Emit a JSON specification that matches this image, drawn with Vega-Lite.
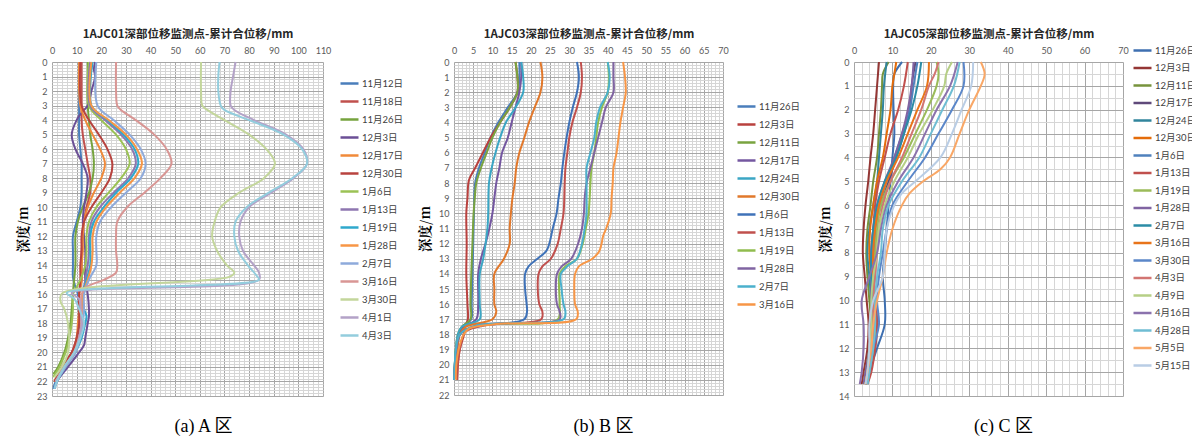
{
"$schema": "https://vega.github.io/schema/vega-lite/v6.json",
"background": "white",
"padding": {"left": 16, "top": 28, "right": 0, "bottom": 0},
"config": {
 "view": {"stroke": null},
 "axis": {"labelFont": "Lato, Noto Sans CJK SC", "labelColor": "#595959", "labelFontSize": 9, "labelFlush": false, "labelOverlap": false, "tickSize": 0},
 "legend": {"titleFont": "Noto Sans CJK SC"}
},
"datasets": {
"A": [
{"s":"11月12日","d":0,"v":11},{"s":"11月12日","d":2,"v":11},{"s":"11月12日","d":4,"v":11},{"s":"11月12日","d":5,"v":11},{"s":"11月12日","d":6,"v":11.5},{"s":"11月12日","d":7,"v":12},{"s":"11月12日","d":8,"v":12},{"s":"11月12日","d":9,"v":12},{"s":"11月12日","d":10,"v":11.5},{"s":"11月12日","d":11,"v":10},{"s":"11月12日","d":12,"v":8.5},{"s":"11月12日","d":13,"v":8.5},{"s":"11月12日","d":14,"v":8.5},{"s":"11月12日","d":14.8,"v":8.5},{"s":"11月12日","d":15.5,"v":9.5},{"s":"11月12日","d":16,"v":10.5},{"s":"11月12日","d":17,"v":11},{"s":"11月12日","d":18,"v":11},{"s":"11月12日","d":19,"v":10.5},{"s":"11月12日","d":20,"v":9},{"s":"11月12日","d":21,"v":5},{"s":"11月12日","d":22,"v":1.5},{"s":"11月12日","d":22.5,"v":0.5},
{"s":"11月18日","d":0,"v":12},{"s":"11月18日","d":2,"v":12},{"s":"11月18日","d":3,"v":12},{"s":"11月18日","d":4,"v":12},{"s":"11月18日","d":5,"v":12.5},{"s":"11月18日","d":6,"v":13.5},{"s":"11月18日","d":7,"v":14.5},{"s":"11月18日","d":8,"v":15.5},{"s":"11月18日","d":9,"v":15.5},{"s":"11月18日","d":10,"v":14},{"s":"11月18日","d":11,"v":13},{"s":"11月18日","d":12,"v":12.5},{"s":"11月18日","d":13,"v":12},{"s":"11月18日","d":14,"v":12},{"s":"11月18日","d":15,"v":12},{"s":"11月18日","d":16,"v":11},{"s":"11月18日","d":17,"v":11},{"s":"11月18日","d":18,"v":11},{"s":"11月18日","d":19,"v":10},{"s":"11月18日","d":20,"v":8},{"s":"11月18日","d":21,"v":4},{"s":"11月18日","d":22,"v":1},
{"s":"11月26日","d":0,"v":14.5},{"s":"11月26日","d":2,"v":14.5},{"s":"11月26日","d":3,"v":14.5},{"s":"11月26日","d":4,"v":15},{"s":"11月26日","d":5,"v":15.5},{"s":"11月26日","d":6,"v":16.5},{"s":"11月26日","d":7,"v":17},{"s":"11月26日","d":8,"v":16.5},{"s":"11月26日","d":9,"v":15},{"s":"11月26日","d":10,"v":12.5},{"s":"11月26日","d":11,"v":10.5},{"s":"11月26日","d":12,"v":9.5},{"s":"11月26日","d":13,"v":9.5},{"s":"11月26日","d":14,"v":9.5},{"s":"11月26日","d":15,"v":9},{"s":"11月26日","d":16,"v":8.5},{"s":"11月26日","d":17,"v":8},{"s":"11月26日","d":18,"v":7.5},{"s":"11月26日","d":19,"v":6.5},{"s":"11月26日","d":20,"v":5},{"s":"11月26日","d":21,"v":2.5},{"s":"11月26日","d":21.5,"v":0.5},
{"s":"12月3日","d":0,"v":17.5},{"s":"12月3日","d":0.5,"v":17},{"s":"12月3日","d":1,"v":17.5},{"s":"12月3日","d":2,"v":16},{"s":"12月3日","d":3,"v":14.5},{"s":"12月3日","d":3.5,"v":12},{"s":"12月3日","d":4,"v":10},{"s":"12月3日","d":5,"v":8},{"s":"12月3日","d":6,"v":9.5},{"s":"12月3日","d":7,"v":12.5},{"s":"12月3日","d":8,"v":14.5},{"s":"12月3日","d":9,"v":14},{"s":"12月3日","d":10,"v":13},{"s":"12月3日","d":11,"v":12.5},{"s":"12月3日","d":12,"v":13},{"s":"12月3日","d":13,"v":13.5},{"s":"12月3日","d":14,"v":13.5},{"s":"12月3日","d":15,"v":13.5},{"s":"12月3日","d":16,"v":14.5},{"s":"12月3日","d":17,"v":15},{"s":"12月3日","d":17.5,"v":15},{"s":"12月3日","d":18,"v":14.5},{"s":"12月3日","d":19,"v":13.5},{"s":"12月3日","d":19.5,"v":13},{"s":"12月3日","d":20,"v":11},{"s":"12月3日","d":21,"v":6.5},{"s":"12月3日","d":22,"v":2},{"s":"12月3日","d":22.5,"v":1},
{"s":"12月17日","d":0,"v":11},{"s":"12月17日","d":3,"v":11.5},{"s":"12月17日","d":4,"v":13.5},{"s":"12月17日","d":5,"v":16.5},{"s":"12月17日","d":6,"v":19.5},{"s":"12月17日","d":7,"v":21.5},{"s":"12月17日","d":8,"v":20},{"s":"12月17日","d":9,"v":17},{"s":"12月17日","d":10,"v":14.5},{"s":"12月17日","d":11,"v":13},{"s":"12月17日","d":12,"v":12.5},{"s":"12月17日","d":13,"v":12.5},{"s":"12月17日","d":14,"v":12},{"s":"12月17日","d":15,"v":12},{"s":"12月17日","d":16,"v":11},{"s":"12月17日","d":17,"v":11},{"s":"12月17日","d":18,"v":10.5},{"s":"12月17日","d":19,"v":10},{"s":"12月17日","d":20,"v":8.5},{"s":"12月17日","d":21,"v":4.5},{"s":"12月17日","d":22,"v":1},
{"s":"12月30日","d":0,"v":11.5},{"s":"12月30日","d":3,"v":12},{"s":"12月30日","d":4,"v":15},{"s":"12月30日","d":5,"v":19},{"s":"12月30日","d":6,"v":22.5},{"s":"12月30日","d":7,"v":24.5},{"s":"12月30日","d":8,"v":23.5},{"s":"12月30日","d":9,"v":20},{"s":"12月30日","d":10,"v":16},{"s":"12月30日","d":11,"v":13},{"s":"12月30日","d":12,"v":12},{"s":"12月30日","d":13,"v":12},{"s":"12月30日","d":14,"v":11.5},{"s":"12月30日","d":15,"v":11.5},{"s":"12月30日","d":16,"v":11},{"s":"12月30日","d":17,"v":11},{"s":"12月30日","d":18,"v":11},{"s":"12月30日","d":19,"v":10},{"s":"12月30日","d":20,"v":8},{"s":"12月30日","d":21,"v":4},{"s":"12月30日","d":22,"v":1},
{"s":"1月6日","d":0,"v":15},{"s":"1月6日","d":3,"v":15},{"s":"1月6日","d":4,"v":20},{"s":"1月6日","d":5,"v":26},{"s":"1月6日","d":6,"v":30},{"s":"1月6日","d":7,"v":31.5},{"s":"1月6日","d":8,"v":28},{"s":"1月6日","d":9,"v":23},{"s":"1月6日","d":10,"v":18},{"s":"1月6日","d":11,"v":15},{"s":"1月6日","d":12,"v":14},{"s":"1月6日","d":13,"v":14},{"s":"1月6日","d":14,"v":13.5},{"s":"1月6日","d":15,"v":11.5},{"s":"1月6日","d":15.5,"v":10},{"s":"1月6日","d":16,"v":8.5},{"s":"1月6日","d":17,"v":8.5},{"s":"1月6日","d":18,"v":8},{"s":"1月6日","d":19,"v":7},{"s":"1月6日","d":20,"v":5.5},{"s":"1月6日","d":21,"v":3},{"s":"1月6日","d":21.7,"v":0.5},
{"s":"1月13日","d":0,"v":15.5},{"s":"1月13日","d":3,"v":15.5},{"s":"1月13日","d":4,"v":21.5},{"s":"1月13日","d":5,"v":28},{"s":"1月13日","d":6,"v":32.5},{"s":"1月13日","d":7,"v":34},{"s":"1月13日","d":8,"v":31},{"s":"1月13日","d":9,"v":25},{"s":"1月13日","d":10,"v":19.5},{"s":"1月13日","d":11,"v":16},{"s":"1月13日","d":12,"v":15},{"s":"1月13日","d":13,"v":15},{"s":"1月13日","d":14,"v":14.5},{"s":"1月13日","d":15,"v":13.5},{"s":"1月13日","d":16,"v":12.5},{"s":"1月13日","d":17,"v":12},{"s":"1月13日","d":18,"v":12},{"s":"1月13日","d":19,"v":11},{"s":"1月13日","d":20,"v":9},{"s":"1月13日","d":21,"v":5},{"s":"1月13日","d":22,"v":1.5},
{"s":"1月19日","d":0,"v":16.5},{"s":"1月19日","d":3,"v":16},{"s":"1月19日","d":4,"v":22.5},{"s":"1月19日","d":5,"v":29},{"s":"1月19日","d":6,"v":33.5},{"s":"1月19日","d":7,"v":35},{"s":"1月19日","d":8,"v":32},{"s":"1月19日","d":9,"v":26},{"s":"1月19日","d":10,"v":21},{"s":"1月19日","d":11,"v":17},{"s":"1月19日","d":12,"v":15.5},{"s":"1月19日","d":13,"v":15.5},{"s":"1月19日","d":14,"v":15.5},{"s":"1月19日","d":15,"v":14},{"s":"1月19日","d":16,"v":12.5},{"s":"1月19日","d":17,"v":13},{"s":"1月19日","d":17.5,"v":14},{"s":"1月19日","d":18,"v":13.5},{"s":"1月19日","d":19,"v":12},{"s":"1月19日","d":20,"v":9.5},{"s":"1月19日","d":21,"v":5.5},{"s":"1月19日","d":22,"v":2},{"s":"1月19日","d":22.5,"v":1},
{"s":"1月28日","d":0,"v":16},{"s":"1月28日","d":3,"v":16},{"s":"1月28日","d":4,"v":23},{"s":"1月28日","d":5,"v":30},{"s":"1月28日","d":6,"v":34.5},{"s":"1月28日","d":7,"v":36.5},{"s":"1月28日","d":8,"v":33.5},{"s":"1月28日","d":9,"v":27.5},{"s":"1月28日","d":10,"v":22},{"s":"1月28日","d":11,"v":18},{"s":"1月28日","d":12,"v":16.5},{"s":"1月28日","d":13,"v":16.5},{"s":"1月28日","d":14,"v":16},{"s":"1月28日","d":15,"v":14.5},{"s":"1月28日","d":16,"v":12.5},{"s":"1月28日","d":17,"v":12},{"s":"1月28日","d":18,"v":12},{"s":"1月28日","d":19,"v":11},{"s":"1月28日","d":20,"v":9},{"s":"1月28日","d":21,"v":5},{"s":"1月28日","d":22,"v":1.5},
{"s":"2月7日","d":0,"v":18},{"s":"2月7日","d":3,"v":18.5},{"s":"2月7日","d":4,"v":25},{"s":"2月7日","d":5,"v":31.5},{"s":"2月7日","d":6,"v":36},{"s":"2月7日","d":7,"v":38},{"s":"2月7日","d":8,"v":36},{"s":"2月7日","d":9,"v":30},{"s":"2月7日","d":10,"v":24},{"s":"2月7日","d":11,"v":19.5},{"s":"2月7日","d":12,"v":18},{"s":"2月7日","d":13,"v":18},{"s":"2月7日","d":14,"v":18},{"s":"2月7日","d":15,"v":15},{"s":"2月7日","d":16,"v":13},{"s":"2月7日","d":17,"v":13},{"s":"2月7日","d":18,"v":12.5},{"s":"2月7日","d":19,"v":11.5},{"s":"2月7日","d":20,"v":9.5},{"s":"2月7日","d":21,"v":5.5},{"s":"2月7日","d":22,"v":2},{"s":"2月7日","d":22.5,"v":1},
{"s":"3月16日","d":0,"v":26},{"s":"3月16日","d":2,"v":26},{"s":"3月16日","d":3,"v":26.5},{"s":"3月16日","d":3.3,"v":28},{"s":"3月16日","d":4,"v":34},{"s":"3月16日","d":5,"v":41.5},{"s":"3月16日","d":6,"v":46.5},{"s":"3月16日","d":7,"v":48.5},{"s":"3月16日","d":8,"v":44},{"s":"3月16日","d":9,"v":37.5},{"s":"3月16日","d":10,"v":30.5},{"s":"3月16日","d":11,"v":26.5},{"s":"3月16日","d":12,"v":26},{"s":"3月16日","d":13,"v":26},{"s":"3月16日","d":14,"v":26.5},{"s":"3月16日","d":14.5,"v":26},{"s":"3月16日","d":15,"v":21},{"s":"3月16日","d":15.5,"v":14},{"s":"3月16日","d":16,"v":12},{"s":"3月16日","d":17,"v":12},{"s":"3月16日","d":18,"v":12},{"s":"3月16日","d":19,"v":11},{"s":"3月16日","d":20,"v":9},{"s":"3月16日","d":21,"v":5},{"s":"3月16日","d":22,"v":1.5},
{"s":"3月30日","d":0,"v":60.5},{"s":"3月30日","d":2,"v":60.5},{"s":"3月30日","d":3,"v":61},{"s":"3月30日","d":3.3,"v":63},{"s":"3月30日","d":4,"v":70},{"s":"3月30日","d":5,"v":80},{"s":"3月30日","d":6,"v":87},{"s":"3月30日","d":7,"v":90.5},{"s":"3月30日","d":8,"v":86},{"s":"3月30日","d":9,"v":76},{"s":"3月30日","d":10,"v":68.5},{"s":"3月30日","d":11,"v":66},{"s":"3月30日","d":12,"v":65},{"s":"3月30日","d":13,"v":67},{"s":"3月30日","d":14,"v":71},{"s":"3月30日","d":14.5,"v":74},{"s":"3月30日","d":14.8,"v":72},{"s":"3月30日","d":15.95,"v":4},{"s":"3月30日","d":16.5,"v":3.5},{"s":"3月30日","d":17,"v":5},{"s":"3月30日","d":18,"v":6.5},{"s":"3月30日","d":19,"v":7},{"s":"3月30日","d":20,"v":6.5},{"s":"3月30日","d":21,"v":4},{"s":"3月30日","d":21.7,"v":1},
{"s":"4月1日","d":0,"v":74.5},{"s":"4月1日","d":1,"v":73.5},{"s":"4月1日","d":2,"v":72.5},{"s":"4月1日","d":3,"v":72.5},{"s":"4月1日","d":3.3,"v":74},{"s":"4月1日","d":4,"v":82},{"s":"4月1日","d":5,"v":95},{"s":"4月1日","d":6,"v":102},{"s":"4月1日","d":7,"v":103.5},{"s":"4月1日","d":8,"v":98},{"s":"4月1日","d":9,"v":89},{"s":"4月1日","d":10,"v":80},{"s":"4月1日","d":11,"v":76.5},{"s":"4月1日","d":12,"v":76},{"s":"4月1日","d":13,"v":77.5},{"s":"4月1日","d":14,"v":82},{"s":"4月1日","d":14.5,"v":84},{"s":"4月1日","d":15,"v":84},{"s":"4月1日","d":15.9,"v":8},{"s":"4月1日","d":16.3,"v":11},{"s":"4月1日","d":17,"v":11.5},{"s":"4月1日","d":18,"v":12},{"s":"4月1日","d":19,"v":11},{"s":"4月1日","d":20,"v":9},{"s":"4月1日","d":21,"v":5},{"s":"4月1日","d":22,"v":1.5},
{"s":"4月3日","d":0,"v":68},{"s":"4月3日","d":1,"v":67.5},{"s":"4月3日","d":2,"v":67.5},{"s":"4月3日","d":3,"v":68.5},{"s":"4月3日","d":3.3,"v":70},{"s":"4月3日","d":4,"v":80},{"s":"4月3日","d":5,"v":94},{"s":"4月3日","d":6,"v":101.5},{"s":"4月3日","d":7,"v":103.5},{"s":"4月3日","d":8,"v":97.5},{"s":"4月3日","d":9,"v":88},{"s":"4月3日","d":10,"v":79},{"s":"4月3日","d":11,"v":74.5},{"s":"4月3日","d":12,"v":74},{"s":"4月3日","d":13,"v":75.5},{"s":"4月3日","d":14,"v":79.5},{"s":"4月3日","d":14.7,"v":83},{"s":"4月3日","d":15,"v":84},{"s":"4月3日","d":15.9,"v":6},{"s":"4月3日","d":16.3,"v":9},{"s":"4月3日","d":17,"v":11},{"s":"4月3日","d":18,"v":13},{"s":"4月3日","d":19,"v":11.5},{"s":"4月3日","d":20,"v":9},{"s":"4月3日","d":21,"v":5},{"s":"4月3日","d":22,"v":2},{"s":"4月3日","d":22.5,"v":1}
],
"B": [
{"s":"11月26日","d":0,"v":17},{"s":"11月26日","d":1,"v":17},{"s":"11月26日","d":2,"v":16.5},{"s":"11月26日","d":3,"v":14},{"s":"11月26日","d":4,"v":11.5},{"s":"11月26日","d":5,"v":9.5},{"s":"11月26日","d":6,"v":8},{"s":"11月26日","d":7,"v":6.5},{"s":"11月26日","d":8,"v":5.5},{"s":"11月26日","d":10,"v":5.2},{"s":"11月26日","d":12,"v":5},{"s":"11月26日","d":14,"v":4.8},{"s":"11月26日","d":16,"v":4.6},{"s":"11月26日","d":17,"v":4.5},{"s":"11月26日","d":17.4,"v":2.5},{"s":"11月26日","d":18,"v":1.2},{"s":"11月26日","d":19,"v":0.6},{"s":"11月26日","d":20,"v":0.2},{"s":"11月26日","d":21,"v":0},
{"s":"12月3日","d":0,"v":16},{"s":"12月3日","d":1,"v":16.5},{"s":"12月3日","d":2,"v":16.5},{"s":"12月3日","d":3,"v":14.5},{"s":"12月3日","d":4,"v":12},{"s":"12月3日","d":5,"v":9.5},{"s":"12月3日","d":6,"v":7.5},{"s":"12月3日","d":7,"v":5.5},{"s":"12月3日","d":7.8,"v":3.9},{"s":"12月3日","d":9,"v":3.5},{"s":"12月3日","d":10,"v":3.2},{"s":"12月3日","d":12,"v":3.3},{"s":"12月3日","d":14,"v":3.2},{"s":"12月3日","d":16,"v":3.5},{"s":"12月3日","d":17,"v":3.6},{"s":"12月3日","d":17.5,"v":2.8},{"s":"12月3日","d":18,"v":2.6},{"s":"12月3日","d":19,"v":1.5},{"s":"12月3日","d":20,"v":1},{"s":"12月3日","d":21,"v":0.8},
{"s":"12月11日","d":0,"v":16},{"s":"12月11日","d":1,"v":16.5},{"s":"12月11日","d":2,"v":16.5},{"s":"12月11日","d":3,"v":14.5},{"s":"12月11日","d":4,"v":12},{"s":"12月11日","d":5,"v":10},{"s":"12月11日","d":6,"v":8.5},{"s":"12月11日","d":7,"v":7},{"s":"12月11日","d":8,"v":5.8},{"s":"12月11日","d":9,"v":5.4},{"s":"12月11日","d":10,"v":5.1},{"s":"12月11日","d":12,"v":4.8},{"s":"12月11日","d":14,"v":4.5},{"s":"12月11日","d":16,"v":4.3},{"s":"12月11日","d":17,"v":4.3},{"s":"12月11日","d":17.5,"v":2},{"s":"12月11日","d":18,"v":1},{"s":"12月11日","d":19,"v":0.5},{"s":"12月11日","d":20,"v":0.3},{"s":"12月11日","d":21,"v":0},
{"s":"12月17日","d":0,"v":17.5},{"s":"12月17日","d":1,"v":17.5},{"s":"12月17日","d":2,"v":17},{"s":"12月17日","d":3,"v":16},{"s":"12月17日","d":4,"v":15},{"s":"12月17日","d":5,"v":14},{"s":"12月17日","d":6,"v":12.5},{"s":"12月17日","d":7,"v":11.8},{"s":"12月17日","d":8,"v":11},{"s":"12月17日","d":9,"v":10.5},{"s":"12月17日","d":10,"v":10},{"s":"12月17日","d":11,"v":9.2},{"s":"12月17日","d":12,"v":8.2},{"s":"12月17日","d":13,"v":7},{"s":"12月17日","d":14,"v":6.3},{"s":"12月17日","d":16,"v":6.3},{"s":"12月17日","d":17,"v":5.8},{"s":"12月17日","d":17.5,"v":2.5},{"s":"12月17日","d":18,"v":1.5},{"s":"12月17日","d":19,"v":0.8},{"s":"12月17日","d":20,"v":0.3},{"s":"12月17日","d":21,"v":0},
{"s":"12月24日","d":0,"v":17.5},{"s":"12月24日","d":1,"v":18},{"s":"12月24日","d":2,"v":18},{"s":"12月24日","d":3,"v":16},{"s":"12月24日","d":4,"v":13.5},{"s":"12月24日","d":5,"v":12},{"s":"12月24日","d":6,"v":10.8},{"s":"12月24日","d":7,"v":9.8},{"s":"12月24日","d":8,"v":9.1},{"s":"12月24日","d":10,"v":8.9},{"s":"12月24日","d":11,"v":8.7},{"s":"12月24日","d":13,"v":7.6},{"s":"12月24日","d":14,"v":6.7},{"s":"12月24日","d":16,"v":6.7},{"s":"12月24日","d":17,"v":6.7},{"s":"12月24日","d":17.5,"v":2},{"s":"12月24日","d":18,"v":1},{"s":"12月24日","d":19,"v":0.5},{"s":"12月24日","d":20,"v":0.2},{"s":"12月24日","d":21,"v":0},
{"s":"12月30日","d":0,"v":22.5},{"s":"12月30日","d":1,"v":23},{"s":"12月30日","d":2,"v":22.5},{"s":"12月30日","d":3,"v":21},{"s":"12月30日","d":4,"v":19.5},{"s":"12月30日","d":5,"v":18.3},{"s":"12月30日","d":6,"v":17},{"s":"12月30日","d":7,"v":16.2},{"s":"12月30日","d":8,"v":15.8},{"s":"12月30日","d":9,"v":15.2},{"s":"12月30日","d":10,"v":14.8},{"s":"12月30日","d":11,"v":14.5},{"s":"12月30日","d":12,"v":14.5},{"s":"12月30日","d":13,"v":13},{"s":"12月30日","d":14,"v":10.5},{"s":"12月30日","d":15,"v":10.5},{"s":"12月30日","d":16,"v":10.5},{"s":"12月30日","d":16.5,"v":11},{"s":"12月30日","d":17,"v":10},{"s":"12月30日","d":17.5,"v":3},{"s":"12月30日","d":18,"v":1.5},{"s":"12月30日","d":19,"v":0.8},{"s":"12月30日","d":20,"v":0.3},{"s":"12月30日","d":21,"v":0},
{"s":"1月6日","d":0,"v":32},{"s":"1月6日","d":1,"v":32.5},{"s":"1月6日","d":2,"v":32},{"s":"1月6日","d":3,"v":30.9},{"s":"1月6日","d":4,"v":30},{"s":"1月6日","d":5,"v":29.3},{"s":"1月6日","d":6,"v":28.7},{"s":"1月6日","d":7,"v":28.2},{"s":"1月6日","d":8,"v":27.8},{"s":"1月6日","d":9,"v":27.2},{"s":"1月6日","d":10,"v":26.7},{"s":"1月6日","d":11,"v":25.7},{"s":"1月6日","d":12,"v":24.8},{"s":"1月6日","d":12.5,"v":24},{"s":"1月6日","d":13,"v":21.7},{"s":"1月6日","d":13.5,"v":19.4},{"s":"1月6日","d":14,"v":18.5},{"s":"1月6日","d":15,"v":18.5},{"s":"1月6日","d":16,"v":18.9},{"s":"1月6日","d":16.5,"v":19},{"s":"1月6日","d":17,"v":18.3},{"s":"1月6日","d":17.4,"v":8},{"s":"1月6日","d":17.7,"v":3},{"s":"1月6日","d":18,"v":1.5},{"s":"1月6日","d":19,"v":0.5},{"s":"1月6日","d":20,"v":0.3},{"s":"1月6日","d":21,"v":0},
{"s":"1月13日","d":0,"v":33},{"s":"1月13日","d":1,"v":33.3},{"s":"1月13日","d":2,"v":33},{"s":"1月13日","d":3,"v":32},{"s":"1月13日","d":4,"v":30.8},{"s":"1月13日","d":5,"v":30},{"s":"1月13日","d":6,"v":29.5},{"s":"1月13日","d":7,"v":29},{"s":"1月13日","d":8,"v":28.8},{"s":"1月13日","d":10,"v":28.5},{"s":"1月13日","d":11,"v":27.8},{"s":"1月13日","d":12,"v":27},{"s":"1月13日","d":13,"v":25.2},{"s":"1月13日","d":13.5,"v":23},{"s":"1月13日","d":14,"v":22},{"s":"1月13日","d":15,"v":21.8},{"s":"1月13日","d":16,"v":22.2},{"s":"1月13日","d":16.5,"v":23},{"s":"1月13日","d":17,"v":22.7},{"s":"1月13日","d":17.4,"v":8},{"s":"1月13日","d":17.8,"v":3},{"s":"1月13日","d":18,"v":2.5},{"s":"1月13日","d":19,"v":1.5},{"s":"1月13日","d":20,"v":1},{"s":"1月13日","d":21,"v":0.8},
{"s":"1月19日","d":0,"v":40},{"s":"1月19日","d":1,"v":40.3},{"s":"1月19日","d":2,"v":40},{"s":"1月19日","d":3,"v":38.5},{"s":"1月19日","d":4,"v":37.5},{"s":"1月19日","d":5,"v":37},{"s":"1月19日","d":6,"v":36.5},{"s":"1月19日","d":7,"v":35.8},{"s":"1月19日","d":8,"v":35.5},{"s":"1月19日","d":9,"v":35.3},{"s":"1月19日","d":10,"v":35},{"s":"1月19日","d":11,"v":34.3},{"s":"1月19日","d":12,"v":33.5},{"s":"1月19日","d":13,"v":32},{"s":"1月19日","d":13.5,"v":29},{"s":"1月19日","d":14,"v":27.5},{"s":"1月19日","d":16,"v":27.5},{"s":"1月19日","d":17,"v":27},{"s":"1月19日","d":17.4,"v":6},{"s":"1月19日","d":18,"v":1.5},{"s":"1月19日","d":19,"v":0.5},{"s":"1月19日","d":20,"v":0.2},{"s":"1月19日","d":21,"v":0},
{"s":"1月28日","d":0,"v":41.5},{"s":"1月28日","d":1,"v":41.5},{"s":"1月28日","d":2,"v":41.5},{"s":"1月28日","d":3,"v":39.5},{"s":"1月28日","d":4,"v":38.5},{"s":"1月28日","d":5,"v":37.5},{"s":"1月28日","d":6,"v":36.5},{"s":"1月28日","d":7,"v":35.5},{"s":"1月28日","d":8,"v":34.5},{"s":"1月28日","d":9,"v":34},{"s":"1月28日","d":10,"v":33.8},{"s":"1月28日","d":11,"v":33.3},{"s":"1月28日","d":12,"v":32.3},{"s":"1月28日","d":13,"v":30.5},{"s":"1月28日","d":13.5,"v":28},{"s":"1月28日","d":14,"v":26.8},{"s":"1月28日","d":15,"v":26.5},{"s":"1月28日","d":16,"v":26.8},{"s":"1月28日","d":16.5,"v":27.5},{"s":"1月28日","d":17,"v":27.5},{"s":"1月28日","d":17.4,"v":6},{"s":"1月28日","d":18,"v":1.5},{"s":"1月28日","d":19,"v":0.6},{"s":"1月28日","d":20,"v":0.2},{"s":"1月28日","d":21,"v":0},
{"s":"2月7日","d":0,"v":40},{"s":"2月7日","d":1,"v":40.5},{"s":"2月7日","d":2,"v":40},{"s":"2月7日","d":3,"v":38},{"s":"2月7日","d":4,"v":37},{"s":"2月7日","d":5,"v":36.5},{"s":"2月7日","d":6,"v":35.5},{"s":"2月7日","d":7,"v":34.5},{"s":"2月7日","d":8,"v":34.5},{"s":"2月7日","d":9,"v":34.5},{"s":"2月7日","d":10,"v":34.5},{"s":"2月7日","d":11,"v":34},{"s":"2月7日","d":12,"v":33.3},{"s":"2月7日","d":13,"v":32},{"s":"2月7日","d":13.5,"v":29.5},{"s":"2月7日","d":14,"v":27.8},{"s":"2月7日","d":15,"v":28},{"s":"2月7日","d":16,"v":28.5},{"s":"2月7日","d":16.5,"v":29},{"s":"2月7日","d":17,"v":28.5},{"s":"2月7日","d":17.4,"v":6},{"s":"2月7日","d":18,"v":1.5},{"s":"2月7日","d":19,"v":0.5},{"s":"2月7日","d":20,"v":0.2},{"s":"2月7日","d":21,"v":0},
{"s":"3月16日","d":0,"v":44},{"s":"3月16日","d":1,"v":44.5},{"s":"3月16日","d":2,"v":44.7},{"s":"3月16日","d":3,"v":44},{"s":"3月16日","d":4,"v":43.3},{"s":"3月16日","d":5,"v":42.8},{"s":"3月16日","d":6,"v":42.3},{"s":"3月16日","d":7,"v":41.5},{"s":"3月16日","d":8,"v":41.3},{"s":"3月16日","d":9,"v":41},{"s":"3月16日","d":10,"v":40.8},{"s":"3月16日","d":11,"v":39.6},{"s":"3月16日","d":11.5,"v":38.8},{"s":"3月16日","d":12,"v":38.4},{"s":"3月16日","d":12.5,"v":37.8},{"s":"3月16日","d":13,"v":36},{"s":"3月16日","d":13.5,"v":32.5},{"s":"3月16日","d":14,"v":31.5},{"s":"3月16日","d":15,"v":31.3},{"s":"3月16日","d":16,"v":31.5},{"s":"3月16日","d":16.5,"v":32.2},{"s":"3月16日","d":17,"v":31.8},{"s":"3月16日","d":17.3,"v":12},{"s":"3月16日","d":17.6,"v":4},{"s":"3月16日","d":18,"v":2.5},{"s":"3月16日","d":19,"v":1.2},{"s":"3月16日","d":20,"v":0.6},{"s":"3月16日","d":21,"v":0.5}
],
"C": [
{"s":"11月26日","d":0,"v":12.5},{"s":"11月26日","d":0.5,"v":10.5},{"s":"11月26日","d":1,"v":10.2},{"s":"11月26日","d":2,"v":10.3},{"s":"11月26日","d":3,"v":10.5},{"s":"11月26日","d":4,"v":10},{"s":"11月26日","d":5,"v":9.5},{"s":"11月26日","d":6,"v":9},{"s":"11月26日","d":7,"v":8.5},{"s":"11月26日","d":8,"v":8},{"s":"11月26日","d":9,"v":7.5},{"s":"11月26日","d":10,"v":8},{"s":"11月26日","d":11,"v":8},{"s":"11月26日","d":12,"v":6},{"s":"11月26日","d":13,"v":4},{"s":"11月26日","d":13.5,"v":3},
{"s":"12月3日","d":0,"v":6.5},{"s":"12月3日","d":1,"v":6},{"s":"12月3日","d":2,"v":5.5},{"s":"12月3日","d":3,"v":5},{"s":"12月3日","d":4,"v":4.3},{"s":"12月3日","d":5,"v":3.7},{"s":"12月3日","d":6,"v":3},{"s":"12月3日","d":7,"v":2.5},{"s":"12月3日","d":8,"v":2.3},{"s":"12月3日","d":9,"v":2.8},{"s":"12月3日","d":10,"v":3.3},{"s":"12月3日","d":11,"v":3.8},{"s":"12月3日","d":12,"v":3.5},{"s":"12月3日","d":13,"v":2.5},{"s":"12月3日","d":13.5,"v":2},
{"s":"12月11日","d":0,"v":9},{"s":"12月11日","d":0.5,"v":7.5},{"s":"12月11日","d":1,"v":7.3},{"s":"12月11日","d":2,"v":7},{"s":"12月11日","d":3,"v":6.5},{"s":"12月11日","d":4,"v":6},{"s":"12月11日","d":5,"v":5},{"s":"12月11日","d":6,"v":4.3},{"s":"12月11日","d":7,"v":3.5},{"s":"12月11日","d":8,"v":3.2},{"s":"12月11日","d":9,"v":3.5},{"s":"12月11日","d":10,"v":4},{"s":"12月11日","d":11,"v":4.5},{"s":"12月11日","d":12,"v":4},{"s":"12月11日","d":13,"v":3},{"s":"12月11日","d":13.5,"v":2.5},
{"s":"12月17日","d":0,"v":16},{"s":"12月17日","d":1,"v":15},{"s":"12月17日","d":2,"v":14.5},{"s":"12月17日","d":3,"v":13},{"s":"12月17日","d":4,"v":11},{"s":"12月17日","d":5,"v":9},{"s":"12月17日","d":6,"v":7},{"s":"12月17日","d":7,"v":5.5},{"s":"12月17日","d":8,"v":5},{"s":"12月17日","d":9,"v":5},{"s":"12月17日","d":10,"v":5.5},{"s":"12月17日","d":11,"v":6},{"s":"12月17日","d":12,"v":5.5},{"s":"12月17日","d":13,"v":4},{"s":"12月17日","d":13.5,"v":3},
{"s":"12月24日","d":0,"v":8.5},{"s":"12月24日","d":1,"v":7.8},{"s":"12月24日","d":2,"v":7.5},{"s":"12月24日","d":3,"v":7},{"s":"12月24日","d":4,"v":6.5},{"s":"12月24日","d":5,"v":6},{"s":"12月24日","d":6,"v":5},{"s":"12月24日","d":7,"v":4},{"s":"12月24日","d":8,"v":3.5},{"s":"12月24日","d":9,"v":4},{"s":"12月24日","d":10,"v":4.5},{"s":"12月24日","d":11,"v":5},{"s":"12月24日","d":12,"v":4.5},{"s":"12月24日","d":13,"v":3.5},{"s":"12月24日","d":13.5,"v":2.8},
{"s":"12月30日","d":0,"v":11},{"s":"12月30日","d":0.5,"v":10.5},{"s":"12月30日","d":1,"v":10},{"s":"12月30日","d":2,"v":9.5},{"s":"12月30日","d":3,"v":8.5},{"s":"12月30日","d":4,"v":7.5},{"s":"12月30日","d":5,"v":6},{"s":"12月30日","d":6,"v":5},{"s":"12月30日","d":7,"v":4.2},{"s":"12月30日","d":8,"v":4},{"s":"12月30日","d":9,"v":4.5},{"s":"12月30日","d":10,"v":5},{"s":"12月30日","d":11,"v":5.5},{"s":"12月30日","d":12,"v":5},{"s":"12月30日","d":13,"v":3.5},{"s":"12月30日","d":13.5,"v":3},
{"s":"1月6日","d":0,"v":16.5},{"s":"1月6日","d":1,"v":15.5},{"s":"1月6日","d":2,"v":14.5},{"s":"1月6日","d":3,"v":12.5},{"s":"1月6日","d":4,"v":10.5},{"s":"1月6日","d":5,"v":8.5},{"s":"1月6日","d":6,"v":6.5},{"s":"1月6日","d":7,"v":5.5},{"s":"1月6日","d":8,"v":5.5},{"s":"1月6日","d":9,"v":5.5},{"s":"1月6日","d":10,"v":4.5},{"s":"1月6日","d":11,"v":5},{"s":"1月6日","d":12,"v":5},{"s":"1月6日","d":13,"v":4},{"s":"1月6日","d":13.5,"v":3.5},
{"s":"1月13日","d":0,"v":14},{"s":"1月13日","d":1,"v":13},{"s":"1月13日","d":2,"v":11.5},{"s":"1月13日","d":3,"v":9.5},{"s":"1月13日","d":4,"v":8},{"s":"1月13日","d":5,"v":6.5},{"s":"1月13日","d":6,"v":5.5},{"s":"1月13日","d":7,"v":5},{"s":"1月13日","d":8,"v":4.5},{"s":"1月13日","d":9,"v":5},{"s":"1月13日","d":10,"v":5.5},{"s":"1月13日","d":11,"v":6},{"s":"1月13日","d":12,"v":5.5},{"s":"1月13日","d":13,"v":4.5},{"s":"1月13日","d":13.5,"v":3.5},
{"s":"1月19日","d":0,"v":21.5},{"s":"1月19日","d":0.5,"v":22},{"s":"1月19日","d":1,"v":21.5},{"s":"1月19日","d":2,"v":19},{"s":"1月19日","d":3,"v":16},{"s":"1月19日","d":4,"v":13},{"s":"1月19日","d":5,"v":9.5},{"s":"1月19日","d":6,"v":7},{"s":"1月19日","d":7,"v":6},{"s":"1月19日","d":8,"v":5.5},{"s":"1月19日","d":9,"v":5},{"s":"1月19日","d":10,"v":5},{"s":"1月19日","d":11,"v":5.5},{"s":"1月19日","d":12,"v":5},{"s":"1月19日","d":13,"v":4},{"s":"1月19日","d":13.5,"v":3.5},
{"s":"1月28日","d":0,"v":15.5},{"s":"1月28日","d":1,"v":15},{"s":"1月28日","d":2,"v":14},{"s":"1月28日","d":3,"v":12.5},{"s":"1月28日","d":4,"v":10.5},{"s":"1月28日","d":5,"v":8},{"s":"1月28日","d":6,"v":6},{"s":"1月28日","d":7,"v":5},{"s":"1月28日","d":8,"v":4.5},{"s":"1月28日","d":9,"v":4.5},{"s":"1月28日","d":10,"v":4.5},{"s":"1月28日","d":11,"v":4.5},{"s":"1月28日","d":12,"v":4},{"s":"1月28日","d":13,"v":3},{"s":"1月28日","d":13.5,"v":2.5},
{"s":"2月7日","d":0,"v":17.5},{"s":"2月7日","d":1,"v":16.5},{"s":"2月7日","d":2,"v":15},{"s":"2月7日","d":3,"v":13},{"s":"2月7日","d":4,"v":11},{"s":"2月7日","d":5,"v":8},{"s":"2月7日","d":6,"v":6},{"s":"2月7日","d":7,"v":5},{"s":"2月7日","d":8,"v":4.5},{"s":"2月7日","d":9,"v":4.5},{"s":"2月7日","d":10,"v":5},{"s":"2月7日","d":11,"v":5},{"s":"2月7日","d":12,"v":4.5},{"s":"2月7日","d":13,"v":3.5},{"s":"2月7日","d":13.5,"v":3},
{"s":"3月16日","d":0,"v":19.5},{"s":"3月16日","d":1,"v":19},{"s":"3月16日","d":2,"v":16.5},{"s":"3月16日","d":3,"v":14},{"s":"3月16日","d":4,"v":11.5},{"s":"3月16日","d":5,"v":8.5},{"s":"3月16日","d":6,"v":6.5},{"s":"3月16日","d":7,"v":5.5},{"s":"3月16日","d":8,"v":5},{"s":"3月16日","d":9,"v":5},{"s":"3月16日","d":10,"v":5.5},{"s":"3月16日","d":11,"v":5},{"s":"3月16日","d":12,"v":4.5},{"s":"3月16日","d":13,"v":3.5},{"s":"3月16日","d":13.5,"v":3},
{"s":"3月30日","d":0,"v":28.5},{"s":"3月30日","d":1,"v":28.5},{"s":"3月30日","d":2,"v":25.5},{"s":"3月30日","d":3,"v":22},{"s":"3月30日","d":4,"v":18.5},{"s":"3月30日","d":5,"v":14},{"s":"3月30日","d":6,"v":10},{"s":"3月30日","d":7,"v":8.5},{"s":"3月30日","d":8,"v":7.5},{"s":"3月30日","d":9,"v":6.5},{"s":"3月30日","d":10,"v":6},{"s":"3月30日","d":11,"v":6.5},{"s":"3月30日","d":12,"v":5},{"s":"3月30日","d":13,"v":4},{"s":"3月30日","d":13.5,"v":3.5},
{"s":"4月3日","d":0,"v":22},{"s":"4月3日","d":0.5,"v":21},{"s":"4月3日","d":1,"v":19.5},{"s":"4月3日","d":2,"v":17.5},{"s":"4月3日","d":3,"v":15},{"s":"4月3日","d":4,"v":12.5},{"s":"4月3日","d":5,"v":9.5},{"s":"4月3日","d":6,"v":7.5},{"s":"4月3日","d":7,"v":6.5},{"s":"4月3日","d":8,"v":6},{"s":"4月3日","d":9,"v":5.5},{"s":"4月3日","d":10,"v":5},{"s":"4月3日","d":11,"v":5},{"s":"4月3日","d":12,"v":4.5},{"s":"4月3日","d":13,"v":3.5},{"s":"4月3日","d":13.5,"v":3},
{"s":"4月9日","d":0,"v":25.5},{"s":"4月9日","d":0.5,"v":24},{"s":"4月9日","d":1,"v":23.5},{"s":"4月9日","d":2,"v":20.5},{"s":"4月9日","d":3,"v":17},{"s":"4月9日","d":4,"v":14},{"s":"4月9日","d":5,"v":10.5},{"s":"4月9日","d":6,"v":8},{"s":"4月9日","d":7,"v":6.5},{"s":"4月9日","d":8,"v":6},{"s":"4月9日","d":9,"v":5},{"s":"4月9日","d":10,"v":4.5},{"s":"4月9日","d":11,"v":4.5},{"s":"4月9日","d":12,"v":4},{"s":"4月9日","d":13,"v":3.5},{"s":"4月9日","d":13.5,"v":3},
{"s":"4月16日","d":0,"v":27},{"s":"4月16日","d":1,"v":25},{"s":"4月16日","d":2,"v":21.5},{"s":"4月16日","d":3,"v":18.5},{"s":"4月16日","d":4,"v":15.5},{"s":"4月16日","d":5,"v":11.5},{"s":"4月16日","d":6,"v":8.5},{"s":"4月16日","d":7,"v":7},{"s":"4月16日","d":8,"v":6},{"s":"4月16日","d":9,"v":4},{"s":"4月16日","d":10,"v":2},{"s":"4月16日","d":11,"v":2.5},{"s":"4月16日","d":12,"v":2.5},{"s":"4月16日","d":13,"v":2},{"s":"4月16日","d":13.5,"v":1.5},
{"s":"4月28日","d":0,"v":27.5},{"s":"4月28日","d":1,"v":26},{"s":"4月28日","d":2,"v":23},{"s":"4月28日","d":3,"v":20},{"s":"4月28日","d":4,"v":17},{"s":"4月28日","d":5,"v":12.5},{"s":"4月28日","d":6,"v":9},{"s":"4月28日","d":7,"v":7.5},{"s":"4月28日","d":8,"v":7},{"s":"4月28日","d":9,"v":6},{"s":"4月28日","d":10,"v":5.5},{"s":"4月28日","d":11,"v":5.5},{"s":"4月28日","d":12,"v":5},{"s":"4月28日","d":13,"v":4},{"s":"4月28日","d":13.5,"v":3.5},
{"s":"5月5日","d":0,"v":33},{"s":"5月5日","d":0.5,"v":34},{"s":"5月5日","d":1,"v":33},{"s":"5月5日","d":2,"v":30},{"s":"5月5日","d":3,"v":27.5},{"s":"5月5日","d":4,"v":25},{"s":"5月5日","d":4.5,"v":22.5},{"s":"5月5日","d":5,"v":18},{"s":"5月5日","d":5.5,"v":14.5},{"s":"5月5日","d":6,"v":12.5},{"s":"5月5日","d":7,"v":10},{"s":"5月5日","d":8,"v":8.5},{"s":"5月5日","d":9,"v":7.5},{"s":"5月5日","d":10,"v":6},{"s":"5月5日","d":11,"v":5},{"s":"5月5日","d":12,"v":4.5},{"s":"5月5日","d":13,"v":3.5},{"s":"5月5日","d":13.5,"v":3},
{"s":"5月15日","d":0,"v":31},{"s":"5月15日","d":1,"v":30.5},{"s":"5月15日","d":2,"v":28},{"s":"5月15日","d":3,"v":25.5},{"s":"5月15日","d":4,"v":22.5},{"s":"5月15日","d":5,"v":16},{"s":"5月15日","d":5.5,"v":12.5},{"s":"5月15日","d":6,"v":10.5},{"s":"5月15日","d":7,"v":8.5},{"s":"5月15日","d":8,"v":8},{"s":"5月15日","d":9,"v":7.5},{"s":"5月15日","d":10,"v":5},{"s":"5月15日","d":11,"v":4},{"s":"5月15日","d":12,"v":4},{"s":"5月15日","d":13,"v":3.5},{"s":"5月15日","d":13.5,"v":3}
]
},
"hconcat": [
{
 "width": 271, "height": 334,
 "title": {"text": "(a) A 区", "orient": "bottom", "anchor": "middle", "frame": "group", "offset": 17, "dx": 16, "font": "Liberation Serif, Noto Sans CJK SC", "fontSize": 18, "fontWeight": "normal", "color": "#000000"},
 "data": {"name": "A"},
 "layer": [
  {"mark": {"type": "line", "interpolate": "catmull-rom", "strokeWidth": 2},
   "encoding": {
    "x": {"field": "v", "type": "quantitative", "scale": {"domain": [0, 110], "nice": false, "zero": false}, "axis": {"orient": "bottom", "tickCount": 55, "labels": false, "ticks": false, "domain": false, "title": null, "grid": true, "gridColor": "#D6D6D6"}},
    "y": {"field": "d", "type": "quantitative", "scale": {"domain": [0, 23], "reverse": true, "nice": false, "zero": false}, "axis": {"orient": "right", "tickCount": 115, "labels": false, "ticks": false, "domain": false, "title": null, "grid": true, "gridColor": "#D6D6D6"}},
    "color": {"field": "s", "type": "nominal",
      "scale": {"domain": ["11月12日","11月18日","11月26日","12月3日","12月17日","12月30日","1月6日","1月13日","1月19日","1月28日","2月7日","3月16日","3月30日","4月1日","4月3日"],
                "range": ["#4A7EBB","#C0504D","#76A33E","#6B4F96","#F08A3A","#B8433F","#9BC255","#8E76B0","#2FA8CC","#F79646","#8EAADB","#D99694","#C3D69B","#B3A2C7","#93CDDD"]},
      "legend": {"orient": "none", "legendX": 287, "legendY": 11, "title": null, "symbolType": "stroke", "symbolSize": 324, "symbolStrokeWidth": 2.5, "labelFontSize": 9.5, "labelFont": "Lato, Noto Sans CJK SC", "labelColor": "#404040", "rowPadding": 2, "labelOffset": 2, "padding": 0}},
    "order": {"field": "d", "type": "quantitative"}
   }},
  {"mark": {"type": "point", "opacity": 0},
   "encoding": {
    "x": {"field": "v", "type": "quantitative", "scale": {"domain": [0, 110], "nice": false, "zero": false}, "axis": {"orient": "top", "values": [0,10,20,30,40,50,60,70,80,90,100,110], "labelPadding": 7, "domain": false, "ticks": false, "grid": true, "gridColor": "#A6A6A6", "title": "1AJC01深部位移监测点-累计合位移/mm", "titleFont": "Noto Sans CJK SC", "titleFontSize": 11.5, "titleFontWeight": "bold", "titleColor": "#262626", "titlePadding": 7}},
    "y": {"field": "d", "type": "quantitative", "scale": {"domain": [0, 23], "reverse": true, "nice": false, "zero": false}, "axis": {"orient": "left", "values": [0,1,2,3,4,5,6,7,8,9,10,11,12,13,14,15,16,17,18,19,20,21,22,23], "labelPadding": 5, "domain": false, "ticks": false, "grid": true, "gridColor": "#A6A6A6", "title": "深度/m", "titleFont": "Noto Serif CJK SC, Noto Sans CJK SC", "titleFontSize": 13.5, "titleFontWeight": "bold", "titleColor": "#000000", "titlePadding": 6}}
   }}
 ],
 "resolve": {"axis": {"x": "independent", "y": "independent"}}
},
{
 "width": 269, "height": 333,
 "title": {"text": "(b) B 区", "orient": "bottom", "anchor": "middle", "frame": "group", "offset": 18, "dx": 15, "font": "Liberation Serif, Noto Sans CJK SC", "fontSize": 18, "fontWeight": "normal", "color": "#000000"},
 "data": {"name": "B"},
 "layer": [
  {"mark": {"type": "line", "interpolate": "catmull-rom", "strokeWidth": 2},
   "encoding": {
    "x": {"field": "v", "type": "quantitative", "scale": {"domain": [0, 70], "nice": false, "zero": false}, "axis": {"orient": "bottom", "tickCount": 70, "labels": false, "ticks": false, "domain": false, "title": null, "grid": true, "gridColor": "#D6D6D6"}},
    "y": {"field": "d", "type": "quantitative", "scale": {"domain": [0, 22], "reverse": true, "nice": false, "zero": false}, "axis": {"orient": "right", "tickCount": 110, "labels": false, "ticks": false, "domain": false, "title": null, "grid": true, "gridColor": "#D6D6D6"}},
    "color": {"field": "s", "type": "nominal",
      "scale": {"domain": ["11月26日","12月3日","12月11日","12月17日","12月24日","12月30日","1月6日","1月13日","1月19日","1月28日","2月7日","3月16日"],
                "range": ["#4A7EBB","#B9413E","#79A33F","#7457A0","#3BA6C4","#E1782B","#3F72B8","#C0504D","#90BC4E","#8064A2","#4BB0CC","#F79646"]},
      "legend": {"orient": "none", "legendX": 282, "legendY": 34, "title": null, "symbolType": "stroke", "symbolSize": 324, "symbolStrokeWidth": 2.5, "labelFontSize": 9.5, "labelFont": "Lato, Noto Sans CJK SC", "labelColor": "#404040", "rowPadding": 2, "labelOffset": 2, "padding": 0}},
    "order": {"field": "d", "type": "quantitative"}
   }},
  {"mark": {"type": "point", "opacity": 0},
   "encoding": {
    "x": {"field": "v", "type": "quantitative", "scale": {"domain": [0, 70], "nice": false, "zero": false}, "axis": {"orient": "top", "values": [0,5,10,15,20,25,30,35,40,45,50,55,60,65,70], "labelPadding": 7, "domain": false, "ticks": false, "grid": true, "gridColor": "#A6A6A6", "title": "1AJC03深部位移监测点-累计合位移/mm", "titleFont": "Noto Sans CJK SC", "titleFontSize": 11.5, "titleFontWeight": "bold", "titleColor": "#262626", "titlePadding": 7}},
    "y": {"field": "d", "type": "quantitative", "scale": {"domain": [0, 22], "reverse": true, "nice": false, "zero": false}, "axis": {"orient": "left", "values": [0,1,2,3,4,5,6,7,8,9,10,11,12,13,14,15,16,17,18,19,20,21,22], "labelPadding": 5, "domain": false, "ticks": false, "grid": true, "gridColor": "#A6A6A6", "title": "深度/m", "titleFont": "Noto Serif CJK SC, Noto Sans CJK SC", "titleFontSize": 13.5, "titleFontWeight": "bold", "titleColor": "#000000", "titlePadding": 6}}
   }}
 ],
 "resolve": {"axis": {"x": "independent", "y": "independent"}}
},
{
 "width": 269, "height": 334,
 "title": {"text": "(c) C 区", "orient": "bottom", "anchor": "middle", "frame": "group", "offset": 17, "dx": 15, "font": "Liberation Serif, Noto Sans CJK SC", "fontSize": 18, "fontWeight": "normal", "color": "#000000"},
 "data": {"name": "C"},
 "layer": [
  {"mark": {"type": "line", "interpolate": "catmull-rom", "strokeWidth": 2},
   "encoding": {
    "x": {"field": "v", "type": "quantitative", "scale": {"domain": [0, 70], "nice": false, "zero": false}, "axis": {"orient": "bottom", "tickCount": 35, "labels": false, "ticks": false, "domain": false, "title": null, "grid": true, "gridColor": "#D6D6D6"}},
    "y": {"field": "d", "type": "quantitative", "scale": {"domain": [0, 14], "reverse": true, "nice": false, "zero": false}, "axis": {"orient": "right", "tickCount": 28, "labels": false, "ticks": false, "domain": false, "title": null, "grid": true, "gridColor": "#D6D6D6"}},
    "color": {"field": "s", "type": "nominal",
      "scale": {"domain": ["11月26日","12月3日","12月11日","12月17日","12月24日","12月30日","1月6日","1月13日","1月19日","1月28日","2月7日","3月16日","3月30日","4月3日","4月9日","4月16日","4月28日","5月5日","5月15日"],
                "range": ["#3E6FB0","#943634","#77933C","#5F497A","#31859C","#E46C0A","#4F81BD","#C0504D","#9BBB59","#8064A2","#2B8CA6","#E8741A","#5B87C9","#D27572","#B6CF86","#8B72AD","#6FBDD3","#F9A766","#B9CDE5"]},
      "legend": {"orient": "none", "legendX": 278, "legendY": -22, "title": null, "symbolType": "stroke", "symbolSize": 324, "symbolStrokeWidth": 2.5, "labelFontSize": 9.5, "labelFont": "Lato, Noto Sans CJK SC", "labelColor": "#404040", "rowPadding": 1.5, "labelOffset": 2, "padding": 0}},
    "order": {"field": "d", "type": "quantitative"}
   }},
  {"mark": {"type": "point", "opacity": 0},
   "encoding": {
    "x": {"field": "v", "type": "quantitative", "scale": {"domain": [0, 70], "nice": false, "zero": false}, "axis": {"orient": "top", "values": [0,10,20,30,40,50,60,70], "labelPadding": 7, "domain": false, "ticks": false, "grid": true, "gridColor": "#A6A6A6", "title": "1AJC05深部位移监测点-累计合位移/mm", "titleFont": "Noto Sans CJK SC", "titleFontSize": 11.5, "titleFontWeight": "bold", "titleColor": "#262626", "titlePadding": 7}},
    "y": {"field": "d", "type": "quantitative", "scale": {"domain": [0, 14], "reverse": true, "nice": false, "zero": false}, "axis": {"orient": "left", "values": [0,1,2,3,4,5,6,7,8,9,10,11,12,13,14], "labelPadding": 5, "domain": false, "ticks": false, "grid": true, "gridColor": "#A6A6A6", "title": "深度/m", "titleFont": "Noto Serif CJK SC, Noto Sans CJK SC", "titleFontSize": 13.5, "titleFontWeight": "bold", "titleColor": "#000000", "titlePadding": 6}}
   }}
 ],
 "resolve": {"axis": {"x": "independent", "y": "independent"}}
}
],
"spacing": 131,
"bounds": "flush",
"resolve": {"scale": {"color": "independent"}, "legend": {"color": "independent"}}
}
